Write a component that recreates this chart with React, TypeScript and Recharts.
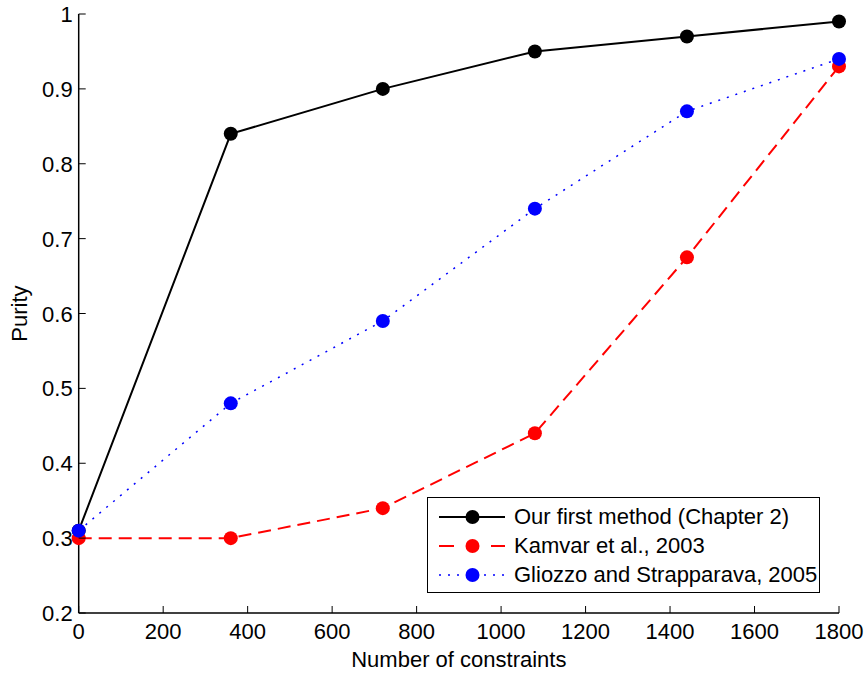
import React from "react";
import { LineChart, Line, XAxis, YAxis } from "recharts";

const xValues = [0, 360, 720, 1080, 1440, 1800];
const ourMethod = [0.31, 0.84, 0.9, 0.95, 0.97, 0.99];
const kamvar = [0.3, 0.3, 0.34, 0.44, 0.675, 0.93];
const gliozzo = [0.31, 0.48, 0.59, 0.74, 0.87, 0.94];
const xTicks = [0, 200, 400, 600, 800, 1000, 1200, 1400, 1600, 1800];
const yTicks = [0.2, 0.3, 0.4, 0.5, 0.6, 0.7, 0.8, 0.9, 1];
const seriesNames = [
  "Our first method (Chapter 2)",
  "Kamvar et al., 2003",
  "Gliozzo and Strapparava, 2005",
];

const data = xValues.map((x, i) => ({
  x,
  ours: ourMethod[i],
  kamvar: kamvar[i],
  gliozzo: gliozzo[i],
}));

const FONT = "'Liberation Sans', Arial, Helvetica, sans-serif";
const FS = 22;
const TICK = 7;

const BottomTick = (props: any) => {
  const { x, y, payload } = props;
  return (
    <g>
      <line x1={x} x2={x} y1={y} y2={y - TICK} stroke="#000" strokeWidth={1} />
      <text x={x} y={y + 26} textAnchor="middle" fontSize={FS} fontFamily={FONT} fill="#000">
        {payload.value}
      </text>
    </g>
  );
};

const TopTick = (props: any) => {
  const { x, y } = props;
  return <line x1={x} x2={x} y1={y} y2={y + TICK} stroke="#000" strokeWidth={1} />;
};

const LeftTick = (props: any) => {
  const { x, y, payload } = props;
  const v = Number(payload.value);
  const label = v === 1 ? "1" : v.toFixed(1);
  return (
    <g>
      <line x1={x} x2={x + TICK} y1={y} y2={y} stroke="#000" strokeWidth={1} />
      <text x={x - 6} y={y + 8} textAnchor="end" fontSize={FS} fontFamily={FONT} fill="#000">
        {label}
      </text>
    </g>
  );
};

const RightTick = (props: any) => {
  const { x, y } = props;
  return <line x1={x} x2={x - TICK} y1={y} y2={y} stroke="#000" strokeWidth={1} />;
};

const legendColors = ["#000000", "#ff0000", "#0000ff"];

const LegendSample = ({ i }: { i: number }) => {
  const c = legendColors[i];
  return (
    <svg width={86} height={20} style={{ flex: "none" }}>
      {i === 0 && <line x1={11} x2={77} y1={10} y2={10} stroke={c} strokeWidth={2} />}
      {i === 1 && (
        <g>
          <line x1={11} x2={26} y1={10} y2={10} stroke={c} strokeWidth={2} />
          <line x1={63} x2={77} y1={10} y2={10} stroke={c} strokeWidth={2} />
        </g>
      )}
      {i === 2 && (
        <line x1={11} x2={77} y1={10} y2={10} stroke={c} strokeWidth={1.5} strokeDasharray="2 7" />
      )}
      <circle cx={44.5} cy={10} r={7} fill={c} />
    </svg>
  );
};

const LegendBox = () => (
  <div
    style={{
      position: "absolute",
      left: 427,
      top: 497,
      border: "1.5px solid #000",
      background: "#fff",
      boxSizing: "border-box",
      width: 393,
      height: 96,
      padding: "4px 0 0 0",
      fontFamily: FONT,
      fontSize: FS,
      color: "#000",
    }}
  >
    {seriesNames.map((name, i) => (
      <div key={name} style={{ display: "flex", alignItems: "center", height: 29 }}>
        <LegendSample i={i} />
        <span style={{ whiteSpace: "nowrap" }}>{name}</span>
      </div>
    ))}
  </div>
);

export default function App() {
  return (
    <div style={{ position: "absolute", left: 0, top: 0, width: 867, height: 675, background: "#fff" }}>
      <LineChart
        width={867}
        height={675}
        data={data}
        margin={{ top: 14, right: 28, bottom: 0, left: 0 }}
      >
        <XAxis
          dataKey="x"
          type="number"
          domain={[0, 1800]}
          ticks={xTicks}
          interval={0}
          height={62}
          tickSize={0}
          tickMargin={0}
          tickLine={false}
          axisLine={{ stroke: "#000", strokeWidth: 1.5 }}
          tick={<BottomTick />}
          label={{
            value: "Number of constraints",
            position: "insideBottom",
            offset: 8,
            fontSize: FS,
            fontFamily: FONT,
            fill: "#000",
          }}
        />
        <XAxis
          xAxisId="top"
          dataKey="x"
          type="number"
          orientation="top"
          domain={[0, 1800]}
          ticks={xTicks}
          interval={0}
          height={0}
          tickSize={0}
          tickMargin={0}
          tickLine={false}
          axisLine={{ stroke: "#000", strokeWidth: 1.5 }}
          tick={<TopTick />}
        />
        <YAxis
          type="number"
          domain={[0.2, 1]}
          ticks={yTicks}
          interval={0}
          width={78.7}
          tickSize={0}
          tickMargin={0}
          tickLine={false}
          axisLine={{ stroke: "#000", strokeWidth: 1.5 }}
          tick={<LeftTick />}
          label={{
            value: "Purity",
            angle: -90,
            position: "insideLeft",
            offset: 19,
            fontSize: FS,
            fontFamily: FONT,
            fill: "#000",
            style: { textAnchor: "middle" },
          }}
        />
        <YAxis
          yAxisId="right"
          type="number"
          orientation="right"
          domain={[0.2, 1]}
          ticks={yTicks}
          interval={0}
          width={0}
          tickSize={0}
          tickMargin={0}
          tickLine={false}
          axisLine={{ stroke: "#000", strokeWidth: 1.5 }}
          tick={<RightTick />}
        />
        <Line
          dataKey="ours"
          name={seriesNames[0]}
          stroke="#000000"
          strokeWidth={2}
          dot={{ r: 7, fill: "#000000", stroke: "none" }}
          activeDot={false}
          isAnimationActive={false}
        />
        <Line
          dataKey="kamvar"
          name={seriesNames[1]}
          stroke="#ff0000"
          strokeWidth={2}
          strokeDasharray="13 7"
          dot={{ r: 7, fill: "#ff0000", stroke: "none", strokeDasharray: "" }}
          activeDot={false}
          isAnimationActive={false}
        />
        <Line
          dataKey="gliozzo"
          name={seriesNames[2]}
          stroke="#0000ff"
          strokeWidth={1.5}
          strokeDasharray="2 7"
          dot={{ r: 7, fill: "#0000ff", stroke: "none", strokeDasharray: "" }}
          activeDot={false}
          isAnimationActive={false}
        />
      </LineChart>
      <LegendBox />
    </div>
  );
}
